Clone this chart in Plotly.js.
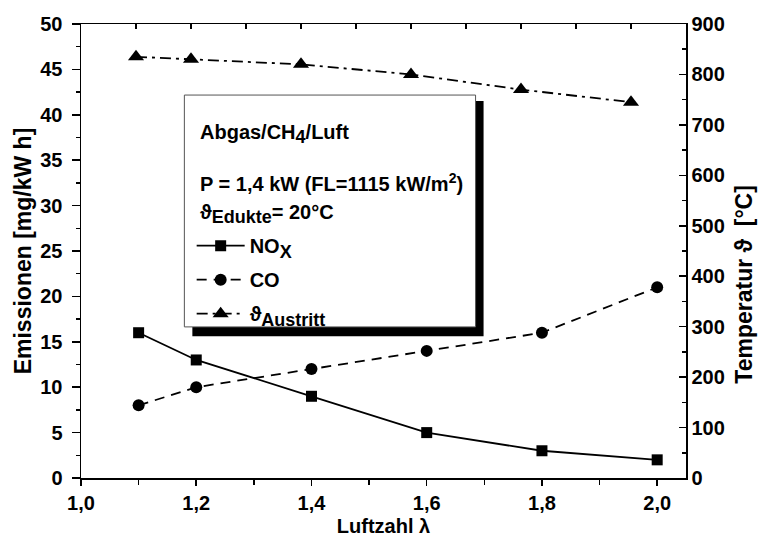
<!DOCTYPE html>
<html>
<head>
<meta charset="utf-8">
<script src="https://cdn.plot.ly/plotly-3.0.1.min.js"></script>
<style>html,body{margin:0;padding:0;background:#fff;}#chart{width:763px;height:539px;}</style>
</head>
<body>
<div id="chart"></div>
<script>
// Data
const lambda = [1.1, 1.2, 1.4, 1.6, 1.8, 2.0];
const noxValues = [16, 13, 9, 5, 3, 2];
const coValues = [8, 10, 12, 14, 16, 21];
const tempValues = [835, 830, 820, 800, 770, 745];
const seriesNames = ['NO<sub><span style="font-size:18px">X</span></sub>', 'CO', 'ϑ<sub><span style="font-size:18px">Austritt</span></sub>'];
const boxLines = ['Abgas/CH<sub><span style="font-size:18px">4</span></sub>/Luft', 'P = 1,4 kW (FL=1115 kW/m<sup>2</sup>)', 'ϑ<sub><span style="font-size:18px">Edukte</span></sub>= 20°C'];
const axisTitles = ['Luftzahl λ', 'Emissionen [mg/kW h]', 'Temperatur ϑ  [°C]'];

const FONT = 'Liberation Sans, Arial, sans-serif';
const fnt = (s) => ({family: FONT, size: s, color: '#000', weight: 'bold'});

const traces = [
  {x: lambda, y: noxValues, name: seriesNames[0], type: 'scatter', mode: 'lines+markers',
   line: {color: '#000', width: 1.8, dash: 'solid'}, marker: {symbol: 'square', size: 11, color: '#000'},
   legendgroup: 'a', xaxis: 'x', yaxis: 'y'},
  {x: lambda, y: coValues, name: seriesNames[1], type: 'scatter', mode: 'lines+markers',
   line: {color: '#000', width: 1.8, dash: '10px,7px'}, marker: {symbol: 'circle', size: 12, color: '#000'},
   legendgroup: 'b', xaxis: 'x', yaxis: 'y'},
  {x: lambda, y: tempValues, name: seriesNames[2], type: 'scatter', mode: 'lines+markers',
   line: {color: '#000', width: 1.8, dash: '11px,5px,3px,5px'}, marker: {symbol: 'triangle-up', size: 14, color: '#000'},
   legendgroup: 'c', xaxis: 'x2', yaxis: 'y2'}
];

const L = 81.3, R = 686.5, T = 24, B = 477.7;
const W = R - L, H = B - T;
const px = (v) => (v - L) / W;
const py = (v) => (B - v) / H;

const layout = {
  width: 763, height: 539,
  margin: {l: L, r: 763 - R, t: T, b: 539 - B, pad: 0},
  paper_bgcolor: '#fff', plot_bgcolor: '#fff',
  separators: ',.',
  showlegend: true,
  font: fnt(20),
  xaxis: {range: [1.0, 2.05], dtick: 0.2, tick0: 1.0, tickformat: '.1f', ticks: 'outside', ticklen: 6, tickwidth: 1.5,
          minor: {dtick: 0.1, ticks: 'outside', ticklen: 5, tickwidth: 1.5, tickcolor: '#000'},
          showline: true, linecolor: '#000', linewidth: 1.5, showgrid: false, zeroline: false, tickcolor: '#000',
          tickfont: fnt(20), title: {text: axisTitles[0], font: fnt(20), standoff: 6}},
  xaxis2: {range: [1.0, 2.1], overlaying: 'x', side: 'top', dtick: 0.1, tick0: 1.0, ticks: 'inside', ticklen: 5, tickwidth: 1.5,
           showticklabels: false, showline: true, linecolor: '#000', linewidth: 1.5, showgrid: false, zeroline: false, tickcolor: '#000'},
  yaxis: {range: [0, 50], dtick: 5, ticks: 'outside', ticklen: 8, tickwidth: 1.5, ticklabelstandoff: 5,
          minor: {dtick: 2.5, ticks: 'outside', ticklen: 4, tickwidth: 1.5, tickcolor: '#000'},
          showline: true, linecolor: '#000', linewidth: 1.5, showgrid: false, zeroline: false, tickcolor: '#000',
          tickfont: fnt(20), title: {text: axisTitles[1], font: fnt(23), standoff: 2}},
  yaxis2: {range: [0, 900], dtick: 100, overlaying: 'y', side: 'right', ticks: 'inside', ticklen: 7, tickwidth: 1.5,
           minor: {dtick: 50, ticks: 'inside', ticklen: 4, tickwidth: 1.5, tickcolor: '#000'},
           showline: true, linecolor: '#000', linewidth: 1.5, showgrid: false, zeroline: false, tickcolor: '#000',
           tickfont: fnt(20)},
  legend: {x: px(192), y: py(226), xanchor: 'left', yanchor: 'top', bgcolor: 'rgba(0,0,0,0)', borderwidth: 0,
           font: fnt(20), traceorder: 'grouped', tracegroupgap: 5, itemwidth: 48},
  shapes: [
    {type: 'rect', xref: 'paper', yref: 'paper', x0: px(192.7), x1: px(484), y0: py(336), y1: py(101),
     fillcolor: '#000', line: {width: 0}, layer: 'above'},
    {type: 'rect', xref: 'paper', yref: 'paper', x0: px(184.7), x1: px(476), y0: py(326.7), y1: py(95),
     fillcolor: '#fff', line: {color: '#555', width: 1}, layer: 'above'}
  ],
  annotations: [
    {text: boxLines[0], x: px(198), y: py(134), xref: 'paper', yref: 'paper', xanchor: 'left', yanchor: 'middle', showarrow: false, font: fnt(20)},
    {text: boxLines[1], x: px(198), y: py(182), xref: 'paper', yref: 'paper', xanchor: 'left', yanchor: 'middle', showarrow: false, font: fnt(20)},
    {text: boxLines[2], x: px(198), y: py(214), xref: 'paper', yref: 'paper', xanchor: 'left', yanchor: 'middle', showarrow: false, font: fnt(20)},
    {text: axisTitles[2], x: px(745), y: py(284), xref: 'paper', yref: 'paper', xanchor: 'center', yanchor: 'middle', textangle: -90, showarrow: false, font: fnt(23)}
  ]
};

Plotly.newPlot('chart', traces, layout, {staticPlot: true, displayModeBar: false});
</script>
</body>
</html>
